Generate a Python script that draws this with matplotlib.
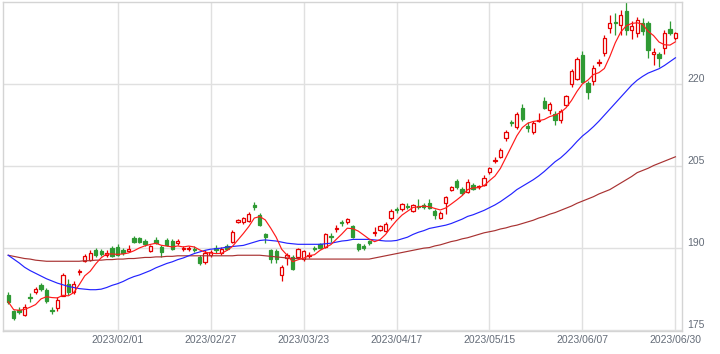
import numpy as np
import pandas as pd
import matplotlib
matplotlib.use('Agg')
import matplotlib.pyplot as plt

# Tokyo market closed days inside the range
holidays = ['2023-01-02', '2023-01-03', '2023-01-09', '2023-02-23',
            '2023-03-21', '2023-05-03', '2023-05-04', '2023-05-05']
tick_labels = ['2023/02/01', '2023/02/27', '2023/03/23', '2023/04/17',
               '2023/05/15', '2023/06/07', '2023/06/30']

opens = [181.5, 178.5, 178.6, 177.7, 181.0, 182.0, 183.2, 182.3, 178.7, 179.0,
         181.3, 183.4, 181.9, 185.6, 187.6, 187.8, 189.6, 189.4, 188.7, 190.0,
         190.2, 189.6, 189.5, 191.9, 191.8, 191.3, 189.5, 191.5, 190.2, 191.5,
         191.3, 191.0, 189.8, 189.8, 189.9, 188.4, 187.4, 188.7, 190.1, 189.2,
         190.4, 191.2, 194.7, 194.7, 195.0, 197.8, 196.0, 192.5, 189.6, 189.5,
         185.1, 188.2, 188.4, 188.4, 188.1, 188.5, 190.0, 190.7, 190.2, 192.2,
         193.5, 194.8, 194.8, 194.1, 190.7, 190.3, 191.3, 192.8, 193.3, 193.2,
         195.5, 197.1, 197.1, 197.7, 196.8, 197.7, 197.9, 198.2, 196.8, 195.6,
         198.2, 200.7, 202.3, 200.9, 200.3, 201.6, 201.1, 201.6, 204.0, 206.0,
         206.6, 210.2, 213.0, 212.1, 215.7, 212.4, 211.2, 213.3, 216.9, 215.3,
         214.5, 213.4, 216.2, 220.0, 220.9, 225.3, 220.1, 220.5, 223.9, 225.6,
         230.2, 231.3, 230.8, 233.4, 229.9, 229.3, 231.1, 231.1, 225.5, 225.5,
         226.5, 230.0, 228.4]
highs = [181.9, 178.7, 179.3, 179.7, 181.8, 182.9, 183.6, 182.7, 179.3, 181.0,
         185.4, 184.3, 183.9, 186.2, 189.0, 189.6, 190.0, 189.9, 189.6, 190.4,
         190.7, 190.0, 190.5, 192.2, 192.0, 191.6, 190.6, 192.1, 190.5, 191.8,
         191.6, 191.6, 190.4, 190.3, 190.3, 188.7, 189.6, 189.6, 190.5, 190.2,
         190.8, 193.3, 195.4, 195.7, 196.6, 198.4, 196.4, 192.7, 189.9, 189.8,
         187.0, 189.2, 188.8, 190.1, 189.7, 189.3, 190.4, 191.0, 192.8, 192.8,
         194.2, 195.1, 195.5, 194.3, 191.0, 190.7, 191.5, 193.8, 194.3, 194.7,
         197.2, 197.5, 198.2, 198.2, 198.1, 199.0, 198.2, 198.9, 197.1, 196.8,
         199.5, 201.4, 202.6, 201.2, 202.6, 201.9, 201.5, 203.3, 204.8, 206.6,
         208.3, 211.6, 213.4, 214.8, 216.3, 213.0, 213.2, 214.7, 217.7, 216.8,
         215.0, 215.4, 218.0, 222.7, 225.0, 226.0, 220.6, 223.5, 224.5, 228.9,
         232.6, 232.9, 233.5, 235.0, 231.5, 232.3, 232.1, 231.5, 226.6, 225.9,
         229.8, 231.6, 229.6]
lows = [179.8, 176.9, 177.9, 177.6, 180.1, 181.7, 182.1, 180.0, 177.9, 178.5,
        181.2, 181.5, 181.6, 185.1, 187.4, 187.6, 188.3, 188.6, 188.4, 188.3,
        188.5, 188.8, 189.3, 190.9, 191.0, 190.4, 189.3, 190.8, 188.4, 190.3,
        189.7, 190.6, 189.5, 189.5, 189.3, 186.9, 187.1, 188.4, 189.2, 188.7,
        189.6, 190.9, 194.6, 194.5, 194.8, 197.0, 194.1, 190.9, 187.2, 187.3,
        184.0, 186.9, 186.0, 188.1, 187.7, 188.2, 189.4, 189.8, 190.0, 191.1,
        193.0, 194.1, 194.5, 191.8, 189.5, 189.7, 190.5, 192.2, 193.1, 193.0,
        195.2, 196.5, 196.8, 197.1, 196.6, 197.2, 197.2, 197.2, 195.4, 195.4,
        196.2, 200.4, 200.9, 199.8, 200.0, 200.7, 200.8, 201.3, 203.5, 205.6,
        206.4, 209.6, 212.4, 211.7, 213.2, 211.2, 210.8, 213.0, 215.4, 214.6,
        212.6, 212.8, 215.9, 219.5, 220.7, 220.1, 217.3, 219.8, 223.3, 225.2,
        229.3, 229.0, 229.0, 229.0, 228.2, 228.6, 228.9, 224.7, 223.4, 223.2,
        225.5, 228.9, 228.1]
closes = [180.2, 177.3, 178.4, 179.3, 180.8, 182.6, 182.5, 180.4, 178.5, 180.5,
          185.0, 182.0, 183.4, 185.8, 188.5, 189.2, 188.7, 189.0, 189.2, 188.6,
          188.8, 189.1, 189.9, 191.2, 191.2, 190.7, 190.4, 191.0, 189.3, 190.5,
          189.9, 191.3, 190.1, 190.1, 189.7, 187.2, 189.2, 189.3, 189.6, 189.9,
          189.9, 192.9, 195.2, 195.5, 196.3, 197.6, 194.3, 192.1, 188.0, 188.0,
          186.6, 188.8, 186.2, 189.8, 189.4, 188.8, 189.8, 190.1, 192.5, 192.0,
          193.7, 194.6, 195.4, 192.1, 189.8, 190.1, 190.9, 193.0, 194.0, 194.5,
          196.8, 196.9, 198.0, 197.5, 197.9, 197.5, 197.5, 197.4, 196.0, 196.5,
          199.3, 201.1, 201.1, 200.0, 202.0, 200.9, 201.3, 202.9, 204.6, 206.2,
          207.9, 211.2, 212.8, 214.6, 213.7, 211.9, 212.8, 213.5, 215.7, 216.3,
          213.4, 215.1, 217.8, 222.4, 224.6, 220.3, 218.5, 222.9, 224.1, 228.4,
          231.2, 231.1, 232.7, 229.8, 230.6, 231.8, 229.7, 226.3, 225.9, 224.7,
          229.3, 229.4, 229.3]

# 25-day and 75-day averages
ma25 = [188.7, 188.0, 187.3, 186.5, 185.9, 185.4, 184.9, 184.4, 184.0, 183.6,
        183.3, 183.0, 182.8, 182.6, 182.5, 182.4, 182.4, 182.5, 182.8, 183.2,
        183.5, 183.9, 184.4, 184.8, 185.1, 185.5, 185.9, 186.4, 186.8, 187.2,
        187.5, 187.9, 188.2, 188.6, 189.0, 189.3, 189.6, 189.8, 189.9, 190.0,
        190.2, 190.3, 190.4, 190.5, 190.8, 191.1, 191.4, 191.5, 191.4, 191.3,
        191.1, 190.9, 190.8, 190.7, 190.7, 190.7, 190.7, 190.7, 190.8, 190.9,
        191.1, 191.3, 191.4, 191.6, 191.6, 191.6, 191.6, 191.5, 191.4, 191.3,
        191.3, 191.4, 191.7, 192.0, 192.5, 192.9, 193.2, 193.6, 193.8, 194.0,
        194.2, 194.5, 194.9, 195.3, 195.8, 196.1, 196.5, 196.9, 197.4, 197.9,
        198.5, 199.2, 199.9, 200.7, 201.3, 201.9, 202.5, 203.2, 204.0, 204.9,
        205.8, 206.5, 207.4, 208.4, 209.5, 210.5, 211.3, 212.2, 213.2, 214.3,
        215.4, 216.5, 217.6, 218.7, 219.8, 220.7, 221.4, 222.0, 222.4, 222.8,
        223.4, 224.1, 224.8]
ma75 = [188.7, 188.5, 188.3, 188.1, 188.0, 187.8, 187.7, 187.6, 187.6, 187.6,
        187.6, 187.6, 187.6, 187.6, 187.7, 187.7, 187.8, 187.8, 187.9, 187.9,
        188.0, 188.0, 188.1, 188.1, 188.2, 188.3, 188.3, 188.4, 188.4, 188.5,
        188.5, 188.6, 188.6, 188.6, 188.6, 188.6, 188.6, 188.6, 188.6, 188.6,
        188.6, 188.6, 188.7, 188.7, 188.7, 188.7, 188.7, 188.6, 188.5, 188.4,
        188.3, 188.2, 188.1, 188.1, 188.0, 188.0, 188.0, 188.0, 188.0, 188.0,
        188.0, 188.0, 188.0, 188.0, 188.0, 188.0, 188.0, 188.2, 188.4, 188.6,
        188.8, 189.0, 189.2, 189.4, 189.6, 189.8, 190.0, 190.1, 190.4, 190.6,
        190.9, 191.2, 191.4, 191.7, 191.9, 192.2, 192.5, 192.8, 193.0, 193.2,
        193.5, 193.7, 194.0, 194.2, 194.5, 194.8, 195.1, 195.5, 195.8, 196.2,
        196.5, 196.9, 197.3, 197.7, 198.2, 198.6, 199.0, 199.4, 199.9, 200.3,
        200.7, 201.3, 201.9, 202.5, 203.1, 203.8, 204.2, 204.6, 205.1, 205.5,
        205.9, 206.3, 206.7]

# trading days -> integer positions
days = pd.bdate_range('2022-12-30', '2023-06-30')
days = days[~days.isin(pd.to_datetime(holidays))]
labels = list(days.strftime('%Y/%m/%d'))
x = np.arange(len(days))
tick_pos = [labels.index(t) for t in tick_labels]

o = np.array(opens)
h = np.array(highs)
l = np.array(lows)
c = np.array(closes)
ma5 = pd.Series(closes).rolling(5, min_periods=1).mean()

red = '#e60000'
green = '#2f9a34'
grid_col = '#e0e0e0'

fig = plt.figure(figsize=(7.2, 3.54), dpi=100)
ax = fig.add_axes([3 / 720, 23 / 354, 679 / 720, 329 / 354])

up = c >= o
lo = np.minimum(o, c)
hgt = np.maximum(np.abs(c - o), 0.12)

# wicks first, bodies on top
ax.vlines(x[up], l[up], h[up], color=red, lw=0.9, zorder=2)
ax.vlines(x[~up], l[~up], h[~up], color=green, lw=0.9, zorder=2)
ax.bar(x[up], hgt[up], bottom=lo[up], width=0.6, facecolor='white',
       edgecolor=red, linewidth=0.9, zorder=3)
ax.bar(x[~up], hgt[~up], bottom=lo[~up], width=0.6, facecolor=green,
       edgecolor=green, linewidth=0.9, zorder=3)

ax.plot(x, ma75, color='#a83232', lw=0.85, zorder=4)
ax.plot(x, ma25, color='#2323ff', lw=0.85, zorder=4)
ax.plot(x, ma5, color='#ff1a1a', lw=0.85, zorder=5)

ax.set_xlim(-0.95, 123.2)
ax.set_ylim(174.85, 235.0)

ax.set_xticks(tick_pos)
ax.set_xticklabels(tick_labels)
ax.set_yticks([175, 190, 205, 220])
ax.yaxis.tick_right()
ax.tick_params(axis='both', length=0, labelsize=7.5, colors='#646c78')
ax.tick_params(axis='x', pad=3)
ax.tick_params(axis='y', pad=4)
for lbl in ax.get_xticklabels() + ax.get_yticklabels():
    lbl.set_fontfamily('Liberation Sans')
for lbl in ax.get_yticklabels():
    lbl.set_verticalalignment('bottom')

ax.grid(True, color=grid_col, lw=1, zorder=0)
ax.set_axisbelow(True)
for s in ax.spines.values():
    s.set_color('#d4d4d4')
    s.set_linewidth(1)

fig.savefig('out.png', dpi=100)
